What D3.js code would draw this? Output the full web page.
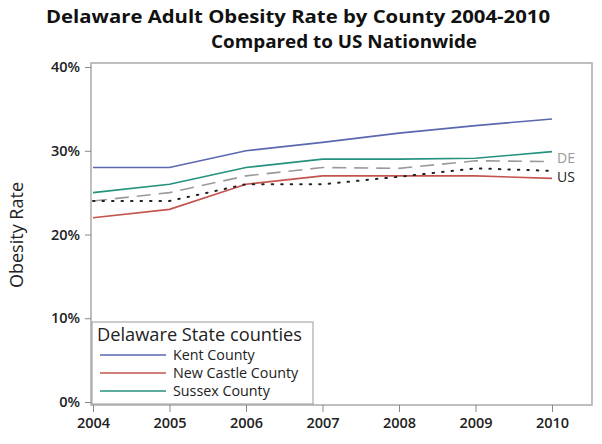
<!doctype html>
<html>
<head>
<meta charset="utf-8" />
<script src="https://cdn.jsdelivr.net/npm/d3@7"></script>
<style>
  body { margin: 0; background: #fff; }
  text { font-family: "Open Sans", "Liberation Sans", sans-serif; }
</style>
</head>
<body>
<svg id="chart" width="602" height="444"></svg>
<script>
// values (percent)
var years = [2004, 2005, 2006, 2007, 2008, 2009, 2010];
var kent = [28, 28, 30, 31, 32.1, 33, 33.8];
var newCastle = [22, 23, 26, 27, 27, 27, 26.7];
var sussex = [25, 26, 28, 29, 29, 29.1, 29.9];
var delaware = [24, 25, 27, 28, 27.9, 28.8, 28.7];
var us = [24, 24, 26, 26, 26.9, 27.9, 27.6];
var yTicks = [0, 10, 20, 30, 40];

var series = [
  { name: "Kent County", values: kent, color: "#5b67ae", dash: null, legend: true },
  { name: "New Castle County", values: newCastle, color: "#c4544e", dash: null, legend: true },
  { name: "Sussex County", values: sussex, color: "#24927f", dash: null, legend: true },
  { name: "DE", values: delaware, color: "#9a9a9a", dash: "14,8", legend: false },
  { name: "US", values: us, color: "#222", dash: "1.5,8", legend: false }
];

var svg = d3.select("#chart");

var x = d3.scaleLinear().domain([2004, 2010]).range([93, 552]);
var y = d3.scaleLinear().domain([0, 40]).range([402, 67]);

// frame
svg.append("rect")
  .attr("x", 91).attr("y", 63).attr("width", 501).attr("height", 342)
  .attr("fill", "none").attr("stroke", "#aaa").attr("stroke-width", 1.5);

// axes
var yAxis = d3.axisLeft(y).tickValues(yTicks).tickFormat(d => d + "%").tickSize(6).tickPadding(5);
var gy = svg.append("g").attr("transform", "translate(91,0)").call(yAxis);
gy.select(".domain").remove();

var xAxis = d3.axisBottom(x).tickValues(years).tickFormat(d3.format("d")).tickSize(7).tickPadding(6);
var gx = svg.append("g").attr("transform", "translate(0,405)").call(xAxis);
gx.select(".domain").remove();

svg.selectAll(".tick line").attr("stroke", "#888");
svg.selectAll(".tick text")
  .attr("font-size", 14.5).attr("font-weight", "600").attr("fill", "#222")
  .style("font-family", "'Open Sans', sans-serif");

// lines
var line = d3.line().x((d, i) => x(years[i])).y(d => y(d));
svg.append("g").selectAll("path").data(series).join("path")
  .attr("d", d => line(d.values))
  .attr("fill", "none")
  .attr("stroke", d => d.color)
  .attr("stroke-width", d => d.name == "US" ? 2 : 1.6)
  .attr("stroke-linecap", d => d.name == "US" ? "round" : "butt")
  .attr("stroke-dasharray", d => d.dash);

// end labels
svg.append("text").attr("x", 557).attr("y", 163).text("DE")
  .attr("font-size", 14).attr("fill", "#999");
svg.append("text").attr("x", 557).attr("y", 182).text("US")
  .attr("font-size", 14).attr("fill", "#222");

// titles
svg.append("text").attr("x", 46).attr("y", 23)
  .attr("font-size", 18).attr("font-weight", "bold").attr("fill", "#111")
  .attr("textLength", 504).attr("lengthAdjust", "spacingAndGlyphs")
  .text("Delaware Adult Obesity Rate by County 2004-2010");
svg.append("text").attr("x", 211).attr("y", 48)
  .attr("font-size", 18).attr("font-weight", "bold").attr("fill", "#111")
  .attr("textLength", 266).attr("lengthAdjust", "spacingAndGlyphs")
  .text("Compared to US Nationwide");

svg.append("text")
  .attr("transform", "translate(23,235) rotate(-90)")
  .attr("text-anchor", "middle").attr("font-size", 18).attr("fill", "#222")
  .text("Obesity Rate");

// legend
var lg = svg.append("g");
lg.append("rect").attr("x", 92).attr("y", 322).attr("width", 221).attr("height", 82)
  .attr("fill", "#fff").attr("stroke", "#999").attr("stroke-width", 1);
lg.append("text").attr("x", 97).attr("y", 341).attr("font-size", 18).attr("fill", "#222")
  .attr("textLength", 205).attr("lengthAdjust", "spacingAndGlyphs")
  .text("Delaware State counties");
var items = lg.selectAll("g.item").data(series.filter(d => d.legend)).join("g")
  .attr("class", "item")
  .attr("transform", (d, i) => "translate(0," + (355 + i * 18) + ")");
items.append("line").attr("x1", 100).attr("x2", 166)
  .attr("stroke", d => d.color).attr("stroke-width", 1.6);
items.append("text").attr("x", 173).attr("y", 5).attr("font-size", 14.3).attr("fill", "#222")
  .text(d => d.name);
</script>
</body>
</html>
